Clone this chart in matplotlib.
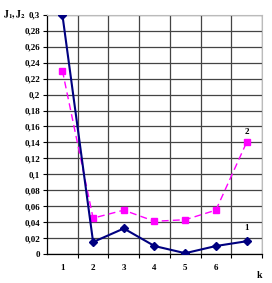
import matplotlib.pyplot as plt

# data
k = [1, 2, 3, 4, 5, 6, 7]
k_labels = ['1', '2', '3', '4', '5', '6']
J1 = [0.300, 0.015, 0.032, 0.010, 0.001, 0.010, 0.016]
J2 = [0.230, 0.045, 0.055, 0.041, 0.043, 0.055, 0.140]
y_ticks = [0, 0.02, 0.04, 0.06, 0.08, 0.10, 0.12, 0.14, 0.16, 0.18,
           0.20, 0.22, 0.24, 0.26, 0.28, 0.30]

plt.rcParams['font.family'] = 'Liberation Serif'
plt.rcParams['font.weight'] = 'bold'
plt.rcParams['mathtext.fontset'] = 'stix'

fig = plt.figure(figsize=(2.72, 2.83), dpi=100)
ax = fig.add_axes([0.173, 0.1025, 0.79, 0.845])

ax.plot(k, J1, color='#000080', lw=1.5, marker='D', ms=3.8, zorder=4)
ax.plot(k, J2, color='#FF00FF', lw=1.0, ls=(0, (5, 3)), marker='s', ms=3.8, zorder=3)

ax.set_xlim(0.5, 7.5)
ax.set_ylim(0, 0.3)

# gridlines between categories, labels at the centres
ax.set_xticks([b + 0.5 for b in k])
ax.set_xticklabels([])
ax.set_xticks(k[:6], minor=True)
ax.set_xticklabels(k_labels, minor=True)
ax.tick_params(axis='x', which='major', length=3, width=0.8, color='black')
ax.tick_params(axis='x', which='minor', length=0, pad=7, labelsize=6.5)

ax.set_yticks(y_ticks)
ax.set_yticklabels(['0' if v == 0 else ('%g' % v).replace('.', ',') for v in y_ticks])
ax.tick_params(axis='y', length=3, width=0.8, labelsize=6.5, pad=2)

ax.grid(True, which='major', color='#444444', lw=0.9)
ax.set_axisbelow(True)
for side in ['top', 'right']:
    ax.spines[side].set_color('#bbbbbb')
    ax.spines[side].set_linewidth(0.8)
for side in ['left', 'bottom']:
    ax.spines[side].set_color('black')
    ax.spines[side].set_linewidth(0.9)

ax.text(k[-1], J1[-1] + 0.012, '1', ha='center', va='bottom', fontsize=6.5)
ax.text(k[-1], J2[-1] + 0.008, '2', ha='center', va='bottom', fontsize=6.5)

fig.text(0.012, 0.95, r'$\mathbf{J_1, J_2}$', fontsize=7, ha='left', va='center')
fig.text(0.955, 0.028, 'k', fontsize=7, ha='center', va='center')

fig.savefig('out.png', dpi=100)
